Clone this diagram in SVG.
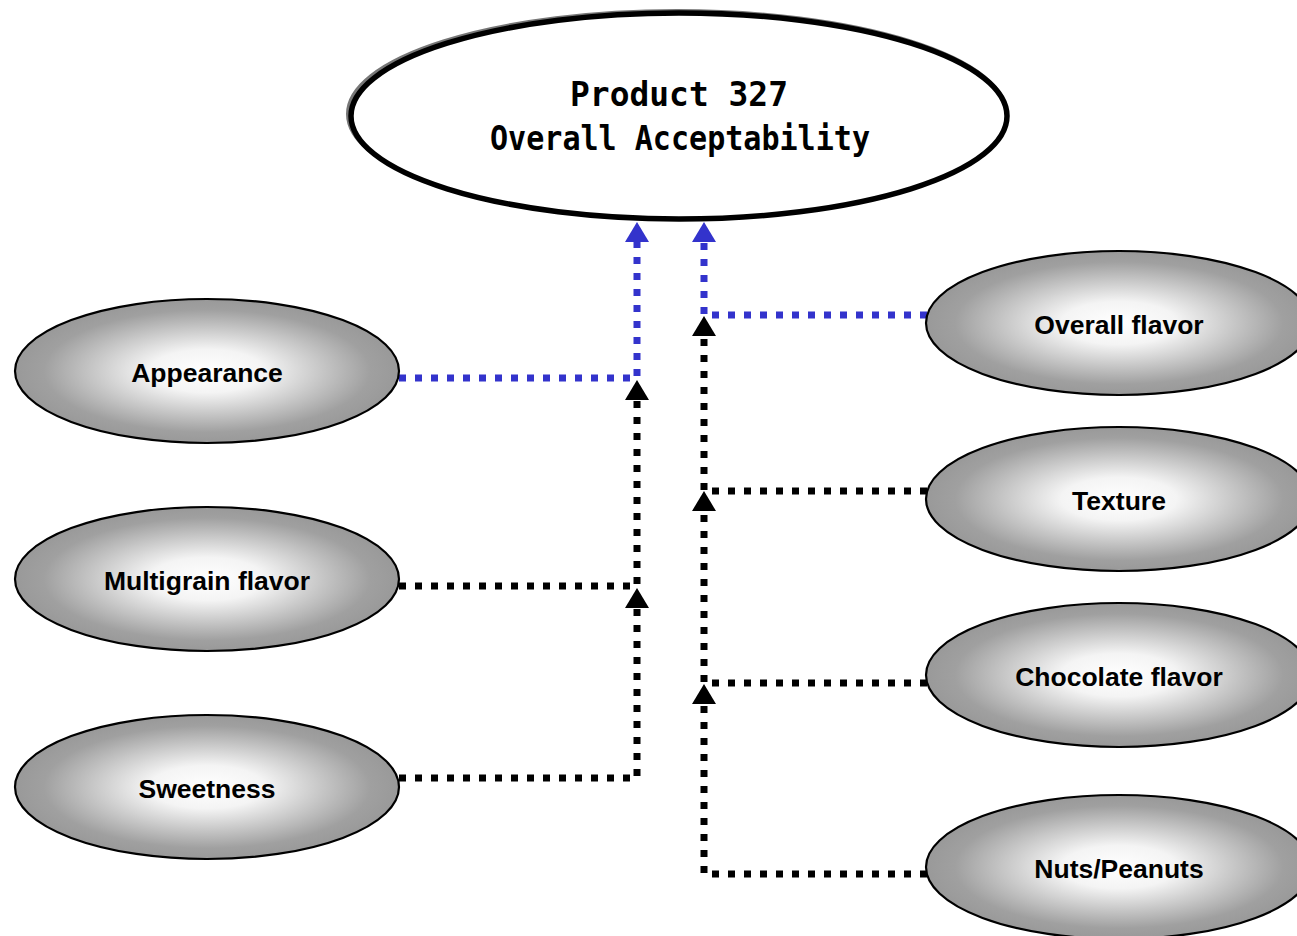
<svg xmlns="http://www.w3.org/2000/svg" width="1297" height="936" viewBox="0 0 1297 936">
<style>
.node{stroke:#000;stroke-width:2.2;fill:url(#g)}
.lbl{font-family:"Liberation Sans",Arial,sans-serif;font-weight:bold;font-size:26.5px;text-anchor:middle;fill:#000}
.title{font-family:"DejaVu Sans Mono","Liberation Mono",monospace;font-weight:bold;font-size:33px;text-anchor:middle;fill:#000}
.blue{fill:none;stroke:#3333cc;stroke-width:7;stroke-dasharray:7 9}
.black{fill:none;stroke:#000;stroke-width:7;stroke-dasharray:7 9}
</style>
<defs>
<radialGradient id="g" cx="50%" cy="50%" r="50%">
<stop offset="0" stop-color="#ffffff"/>
<stop offset="0.3" stop-color="#f4f4f4"/>
<stop offset="0.85" stop-color="#a0a0a0"/>
<stop offset="1" stop-color="#999999"/>
</radialGradient>
<marker id="ab" markerUnits="userSpaceOnUse" viewBox="0 0 20 24" refX="0" refY="12" markerWidth="20" markerHeight="24" orient="auto">
<path d="M0,0 L20,12 L0,24 z" fill="#3333cc"/>
</marker>
<marker id="ak" markerUnits="userSpaceOnUse" viewBox="0 0 20 24" refX="0" refY="12" markerWidth="20" markerHeight="24" orient="auto">
<path d="M0,0 L20,12 L0,24 z" fill="#000"/>
</marker>
</defs>
<rect width="1297" height="936" fill="#fff"/>
<g id="connectors">
<path class="blue" d="M399,378 H637 V242" marker-end="url(#ab)"/>
<path class="blue" d="M927,315 H704 V242" marker-end="url(#ab)"/>
<path class="black" d="M399,586 H637 V400" marker-end="url(#ak)"/>
<path class="black" d="M399,778 H637 V608" marker-end="url(#ak)"/>
<path class="black" d="M927,491 H704 V336" marker-end="url(#ak)"/>
<path class="black" d="M927,683 H704 V511" marker-end="url(#ak)"/>
<path class="black" d="M927,874 H704 V704" marker-end="url(#ak)"/>
</g>
<g id="top">
<ellipse cx="677" cy="114" rx="329" ry="103" fill="none" stroke="#777" stroke-width="4"/>
<ellipse cx="679" cy="116" rx="328" ry="103" fill="#fff" stroke="#000" stroke-width="5.5"/>
<text class="title" x="679" y="106" textLength="218" lengthAdjust="spacingAndGlyphs">Product 327</text>
<text class="title" x="680" y="150" textLength="380" lengthAdjust="spacingAndGlyphs">Overall Acceptability</text>
</g>
<g id="appearance">
<ellipse class="node" cx="207" cy="371" rx="192" ry="72"/>
<text class="lbl" x="207" y="382">Appearance</text>
</g>
<g id="multigrain">
<ellipse class="node" cx="207" cy="579" rx="192" ry="72"/>
<text class="lbl" x="207" y="590">Multigrain flavor</text>
</g>
<g id="sweetness">
<ellipse class="node" cx="207" cy="787" rx="192" ry="72"/>
<text class="lbl" x="207" y="798">Sweetness</text>
</g>
<g id="overallflavor">
<ellipse class="node" cx="1119" cy="323" rx="193" ry="72"/>
<text class="lbl" x="1119" y="334">Overall flavor</text>
</g>
<g id="texture">
<ellipse class="node" cx="1119" cy="499" rx="193" ry="72"/>
<text class="lbl" x="1119" y="510">Texture</text>
</g>
<g id="chocolate">
<ellipse class="node" cx="1119" cy="675" rx="193" ry="72"/>
<text class="lbl" x="1119" y="686">Chocolate flavor</text>
</g>
<g id="nuts">
<ellipse class="node" cx="1119" cy="867" rx="193" ry="72"/>
<text class="lbl" x="1119" y="878">Nuts/Peanuts</text>
</g>
</svg>
